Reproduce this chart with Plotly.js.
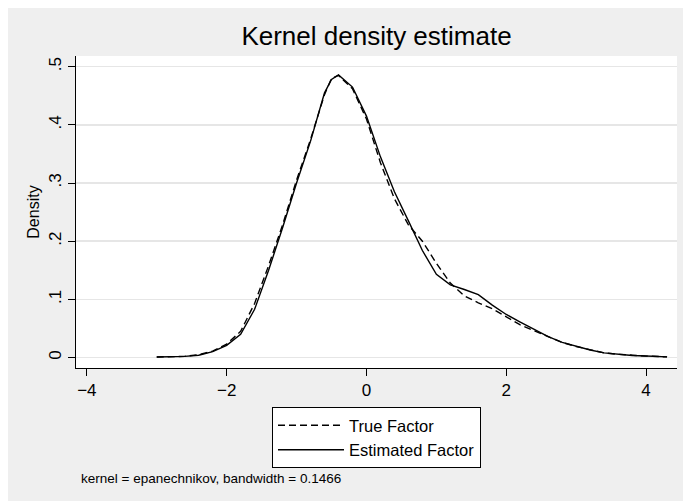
<!DOCTYPE html>
<html><head><meta charset="utf-8">
<script src="https://cdn.plot.ly/plotly-3.0.1.min.js"></script>
<style>
html,body{margin:0;padding:0;background:#fff;}
#chart{position:absolute;left:8px;top:8px;width:675px;height:493px;}
</style></head><body><div id="chart"></div>
<script>
const xGrid = [-3.0,-2.8,-2.6,-2.4,-2.2,-2.0,-1.8,-1.6,-1.4,-1.2,-1.0,-0.8,-0.6,-0.5,-0.4,-0.2,0.0,0.2,0.4,0.6,0.8,1.0,1.2,1.4,1.6,1.8,2.0,2.2,2.4,2.6,2.8,3.0,3.2,3.4,3.6,3.8,4.0,4.2,4.3];
const trueFactor = [0.001,0.001,0.002,0.005,0.011,0.023,0.045,0.093,0.158,0.228,0.305,0.375,0.452,0.480,0.485,0.462,0.410,0.335,0.273,0.228,0.200,0.162,0.128,0.106,0.094,0.084,0.070,0.056,0.046,0.036,0.026,0.019,0.013,0.008,0.0055,0.0035,0.0025,0.0016,0.0012];
const estimatedFactor = [0.001,0.0015,0.002,0.004,0.010,0.021,0.040,0.083,0.150,0.223,0.300,0.372,0.455,0.478,0.486,0.465,0.415,0.345,0.285,0.235,0.184,0.143,0.125,0.117,0.108,0.090,0.074,0.061,0.048,0.036,0.026,0.019,0.013,0.008,0.0055,0.0035,0.0026,0.0016,0.0012];
const seriesNames = ['True Factor','Estimated Factor'];
const xTickVals = [-4,-2,0,2,4];
const xTickText = ['\u22124','\u22122','0','2','4'];
const yTickVals = [0,0.1,0.2,0.3,0.4,0.5];
const yTickText = ['0','.1','.2','.3','.4','.5'];
const titleText = 'Kernel density estimate';
const yTitle = 'Density';
const noteText = 'kernel = epanechnikov, bandwidth = 0.1466';

const FONT = 'Liberation Sans, Arial, Helvetica, sans-serif';
const traces = [
  {x:xGrid, y:trueFactor, name:seriesNames[0], type:'scatter', mode:'lines',
   line:{color:'#000', width:1.4, dash:'7px,4px'}},
  {x:xGrid, y:estimatedFactor, name:seriesNames[1], type:'scatter', mode:'lines',
   line:{color:'#000', width:1.4}}
];
const layout = {
  width:675, height:493,
  margin:{l:68, r:6, t:48, b:133},
  paper_bgcolor:'#efefef', plot_bgcolor:'#ffffff',
  font:{family:FONT, color:'#000', size:16},
  title:{text:titleText, font:{family:FONT, size:26, color:'#000'}, x:0.5, xref:'paper', xanchor:'center', y:1-28/493, yanchor:'middle'},
  xaxis:{range:[-4.155,4.442], tickvals:xTickVals, ticktext:xTickText, ticks:'outside', ticklen:7, tickwidth:1, tickcolor:'#000',
    showline:true, linecolor:'#000', linewidth:1, showgrid:false, zeroline:false, tickfont:{size:17}},
  yaxis:{range:[-0.018,0.5184], tickvals:yTickVals, ticktext:yTickText, tickangle:-90, ticks:'outside', ticklen:7, tickwidth:1, tickcolor:'#000',
    showline:true, linecolor:'#000', linewidth:1, showgrid:true, gridcolor:'#e6e6e6', gridwidth:1.5, zeroline:false, tickfont:{size:17},
    title:{text:yTitle, font:{size:16}, standoff:2}},
  showlegend:true,
  legend:{x:0.5, xanchor:'center', y:-0.125, yanchor:'top', bordercolor:'#000', borderwidth:1, bgcolor:'#fff',
    font:{size:16.5}, itemwidth:66, traceorder:'normal'},
  annotations:[{text:noteText, xref:'paper', yref:'paper', x:0.005, y:-0.3526, xanchor:'left', yanchor:'middle', showarrow:false, font:{size:13.5}}]
};
Plotly.newPlot('chart', traces, layout, {staticPlot:true, displayModeBar:false});
</script></body></html>
